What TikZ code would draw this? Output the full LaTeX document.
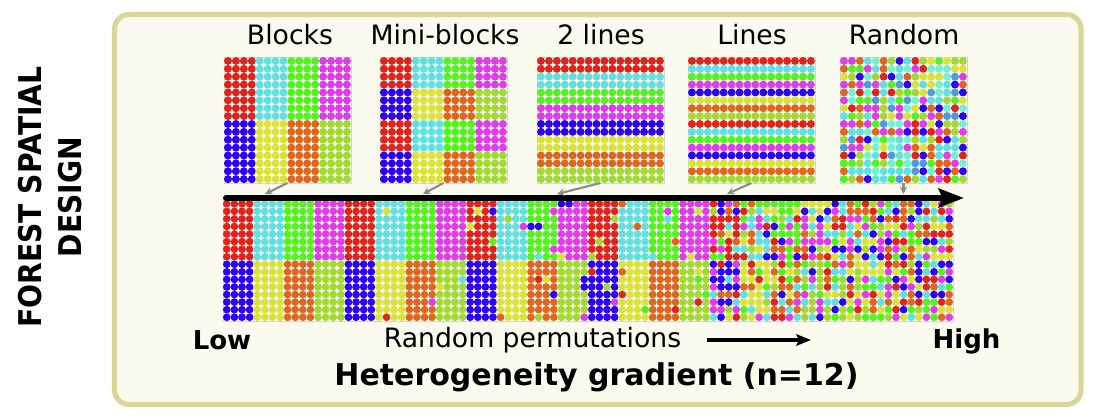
\documentclass[tikz,border=0pt]{standalone}
\usepackage{fontspec}
\setmainfont{DejaVu Sans}
\newfontfamily\sidefont[FakeStretch=0.9]{DejaVu Sans}
\usetikzlibrary{arrows.meta}
\definecolor{dc1}{HTML}{E2231A}
\definecolor{dc2}{HTML}{62E0E0}
\definecolor{dc3}{HTML}{55F31E}
\definecolor{dc4}{HTML}{E03CE8}
\definecolor{dc5}{HTML}{2D00F5}
\definecolor{dc6}{HTML}{DCE23C}
\definecolor{dc7}{HTML}{E0661E}
\definecolor{dc8}{HTML}{A2DA32}
\definecolor{dc9}{HTML}{4F9BDC}
\definecolor{dc10}{HTML}{72F2D0}
\definecolor{dc11}{HTML}{62E0E0}
\definecolor{dc12}{HTML}{72F2D0}
\definecolor{framefill}{HTML}{FAFAEF}
\definecolor{frameline}{HTML}{D9D59B}
\definecolor{gridline}{HTML}{D4D4D4}
\definecolor{conn}{HTML}{8C8C8C}
\newcommand\mygrid[3]{%
  \foreach \i in {0,...,15}{\foreach \j in {0,...,15}{%
    #3%
    \fill[dc\k] ({#1+(\i+0.5)*7.93},{#2+(\j+0.5)*7.88}) circle[radius=3.0pt];
  }}}
\begin{document}
\begin{tikzpicture}[x=0.75pt,y=-0.75pt,
  gridbox/.style={draw=gridline, line width=0.75pt, fill=white, inner sep=0pt, outer sep=0pt},
  toplabel/.style={font=\fontsize{20pt}{24pt}\selectfont, anchor=base, inner sep=0pt},
  boldlabel/.style={font=\bfseries\fontsize{19.5pt}{23pt}\selectfont, anchor=base, inner sep=0pt},
  permlabel/.style={font=\fontsize{20pt}{24pt}\selectfont, anchor=base, inner sep=0pt},
  titlelabel/.style={font=\bfseries\fontsize{22.5pt}{27pt}\selectfont, anchor=base, inner sep=0pt},
  sidelabel/.style={font=\sidefont\bfseries\fontsize{23.5pt}{30pt}\selectfont, align=center, rotate=90, inner sep=0pt},
  conector/.style={draw=conn, line width=1.6pt, -{Stealth[length=5.5pt,width=5.5pt]}},
  bigarrow/.style={draw=black, line width=4.5pt, line cap=round, -{Stealth[length=19pt,width=14pt,inset=3pt]}},
  smallarrow/.style={draw=black, line width=2.6pt, -{Stealth[length=11pt,width=8.5pt,inset=2pt]}},
  frame/.style={draw=frameline, fill=framefill, line width=3.8pt, rounded corners=11pt}]
\useasboundingbox (0,0) rectangle (1095,419);
\fill[white] (0,0) rectangle (1095,419);
% frame
\draw[frame] (114.5,14.5) rectangle (1081,404.5);
% side title
\node[sidelabel] (side) at (50,197) {FOREST SPATIAL\\DESIGN};
% top labels
\node[toplabel] (lBlocks) at (290,44) {Blocks};
\node[toplabel] (lMini) at (445,44) {Mini-blocks};
\node[toplabel] (lTwo) at (601,44) {2 lines};
\node[toplabel] (lLines) at (752,44) {Lines};
\node[toplabel] (lRandom) at (904,44) {Random};
% top grids
\node[gridbox, minimum width=95.25pt, minimum height=94.5pt] (gBlocks) at (287.5,120) {};
\node[gridbox, minimum width=95.25pt, minimum height=94.5pt] (gMini) at (443.5,120) {};
\node[gridbox, minimum width=95.25pt, minimum height=94.5pt] (gTwo) at (600.5,120) {};
\node[gridbox, minimum width=95.25pt, minimum height=94.5pt] (gLines) at (751.5,120) {};
\node[gridbox, minimum width=95.25pt, minimum height=94.5pt] (gRandom) at (903.5,120) {};
\mygrid{224}{57}{\pgfmathtruncatemacro\k{(\j>7)*4+int(\i/4)+1}}
\mygrid{380}{57}{\pgfmathtruncatemacro\k{mod(int(\j/4),2)*4+int(\i/4)+1}}
\mygrid{537}{57}{\pgfmathtruncatemacro\k{int(\j/2)+1}}
\mygrid{688}{57}{\pgfmathtruncatemacro\k{mod(\j,8)+1}}
\pgfmathsetseed{7}
\mygrid{840}{57}{\pgfmathrandominteger{\k}{1}{12}}
% strip
\node[gridbox, minimum width=547.5pt, minimum height=90.75pt] (strip) at (588,260.5) {};
\pgfmathsetseed{12}
\foreach \p/\prob in {0/0,1/0.03,2/0.08,3/0.1,4/0.66,5/1.01}{%
  \foreach \i in {0,...,15}{\foreach \j in {0,...,15}{%
    \pgfmathtruncatemacro\k{(\j>7)*4+int(\i/4)+1}%
    \pgfmathtruncatemacro\sw{rnd<\prob}%
    \ifnum\sw=1 \pgfmathrandominteger{\k}{1}{8}\fi
    \fill[dc\k] ({223+\p*121.67+(\i+0.5)*7.604},{200+(\j+0.5)*7.5625}) circle[radius=2.9pt];
  }}}
% big arrow
\coordinate (aL) at (226,198);
\coordinate (aR) at (964,198);
\draw[bigarrow] (aL) -- (aR);
% connectors
\coordinate (e1) at (265,194);
\coordinate (e2) at (423,194);
\coordinate (e3) at (557,194);
\coordinate (e4) at (727,194);
\coordinate (e5) at (903.5,194);
\draw[conector] (gBlocks.south) -- (e1);
\draw[conector] (gMini.south) -- (e2);
\draw[conector] (gTwo.south) -- (e3);
\draw[conector] (gLines.south) -- (e4);
\draw[conector] (gRandom.south) -- (e5);
% bottom labels
\node[boldlabel] (low) at (222,349) {Low};
\node[boldlabel] (high) at (966.5,348) {High};
\node[permlabel] (perm) at (532.5,347) {Random permutations};
\coordinate (pa) at (707,340);
\coordinate (pb) at (811,340);
\draw[smallarrow] (pa) -- (pb);
\node[titlelabel] (grad) at (596.5,385) {Heterogeneity gradient (n=12)};
\end{tikzpicture}
\end{document}
